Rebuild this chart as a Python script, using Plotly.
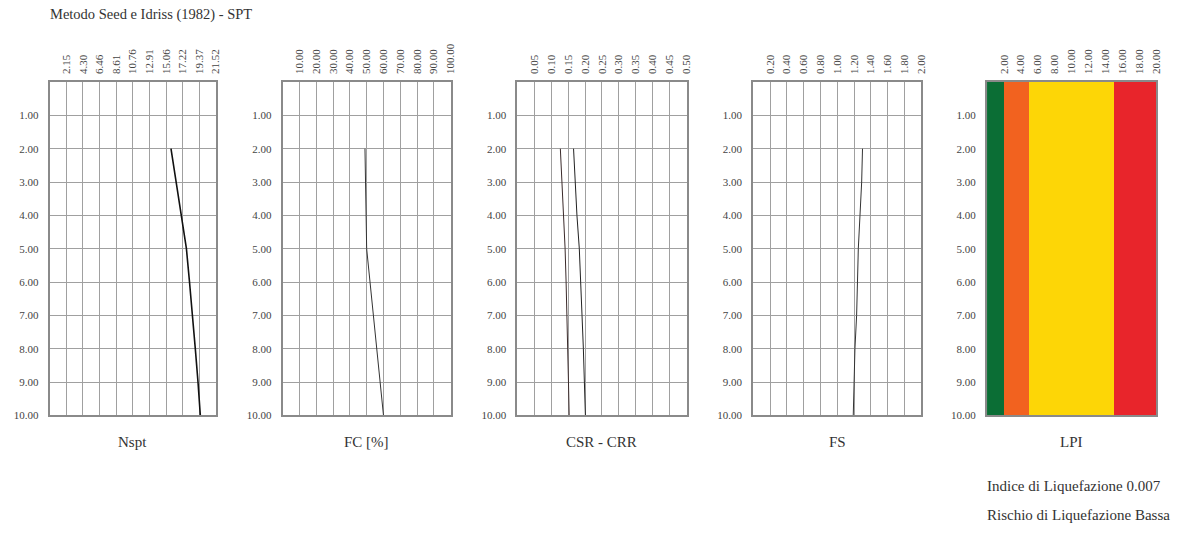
import plotly.graph_objects as go

# Depth profile (m)
depth = [2, 3, 4, 5, 6, 7, 8, 9, 10]

# Series values along the profile
nspt = [15.7, 16.35, 17.0, 17.7, 18.1, 18.5, 18.85, 19.2, 19.5]
fc = [49.0, 49.3, 49.6, 50.0, 52.0, 54.0, 56.0, 58.0, 60.0]
csr = [0.127, 0.132, 0.137, 0.141, 0.144, 0.147, 0.149, 0.151, 0.153]
crr = [0.166, 0.170, 0.176, 0.183, 0.188, 0.191, 0.195, 0.198, 0.201]
fs = [1.30, 1.29, 1.27, 1.25, 1.24, 1.23, 1.21, 1.20, 1.19]

# LPI classes: band edges and colours
lpi_edges = [0, 2, 5, 15, 20]
lpi_colors = ["#0b6e35", "#f2621f", "#fdd606", "#e8252b"]

# Top tick labels of each panel
nspt_ticks = [2.15, 4.30, 6.46, 8.61, 10.76, 12.91, 15.06, 17.22, 19.37, 21.52]
fc_ticks = [10, 20, 30, 40, 50, 60, 70, 80, 90, 100]
csr_ticks = [0.05, 0.10, 0.15, 0.20, 0.25, 0.30, 0.35, 0.40, 0.45, 0.50]
fs_ticks = [0.20, 0.40, 0.60, 0.80, 1.00, 1.20, 1.40, 1.60, 1.80, 2.00]
lpi_ticks = [2, 4, 6, 8, 10, 12, 14, 16, 18, 20]
depth_ticks = [1, 2, 3, 4, 5, 6, 7, 8, 9, 10]

panel_titles = ["Nspt", "FC [%]", "CSR - CRR", "FS", "LPI"]
chart_title = "Metodo Seed e Idriss (1982) - SPT"
index_text = "Indice di Liquefazione 0.007"
risk_text = "Rischio di Liquefazione Bassa"

W, H = 1199, 541
FONT = "Liberation Serif"
panels_px = [(50, 217), (284, 453), (520, 690), (757, 926), (992, 1162)]
y_top_px, y_bot_px = 83, 420
ydom = [1 - y_bot_px / H, 1 - y_top_px / H]

fig = go.Figure()

fig.add_trace(go.Scatter(x=nspt, y=depth, mode="lines", line=dict(color="#111", width=1.6),
                         xaxis="x", yaxis="y", showlegend=False))
fig.add_trace(go.Scatter(x=fc, y=depth, mode="lines", line=dict(color="#333", width=1),
                         xaxis="x2", yaxis="y2", showlegend=False))
fig.add_trace(go.Scatter(x=csr, y=depth, mode="lines", line=dict(color="#3a2a2a", width=1),
                         xaxis="x3", yaxis="y3", showlegend=False))
fig.add_trace(go.Scatter(x=crr, y=depth, mode="lines", line=dict(color="#222", width=1),
                         xaxis="x3", yaxis="y3", showlegend=False))
fig.add_trace(go.Scatter(x=fs, y=depth, mode="lines", line=dict(color="#333", width=1),
                         xaxis="x4", yaxis="y4", showlegend=False))

# LPI colour bands as horizontal bars over the full depth
for a, b, c in zip(lpi_edges[:-1], lpi_edges[1:], lpi_colors):
    fig.add_trace(go.Bar(x=[b - a], base=[a], y=[5], width=[10], orientation="h",
                         marker=dict(color=c, line=dict(width=0)),
                         xaxis="x5", yaxis="y5", showlegend=False))

tick_sets = [nspt_ticks, fc_ticks, csr_ticks, fs_ticks, lpi_ticks]
ranges = [[0, 21.52], [0, 100], [0, 0.5], [0, 2.0], [0, 20]]

layout = dict(
    width=W, height=H,
    margin=dict(l=0, r=0, t=0, b=0),
    paper_bgcolor="white", plot_bgcolor="white",
    font=dict(family=FONT, color="#333"),
    bargap=0, barmode="overlay",
)

annotations = []
for i, ((x0, x1), ticks, rng, title) in enumerate(zip(panels_px, tick_sets, ranges, panel_titles)):
    sfx = "" if i == 0 else str(i + 1)
    grid = i < 4
    layout["xaxis" + sfx] = dict(
        domain=[x0 / W, x1 / W], range=rng, side="top",
        anchor="y" + sfx,
        tickvals=ticks, ticktext=[f"{t:.2f}" for t in ticks],
        tickangle=-90, tickfont=dict(size=11, color="#444"),
        ticklabelstandoff=4,
        showgrid=grid, gridcolor="#a0a0a0", gridwidth=1,
        showline=True, linecolor="#8a8a8a", linewidth=2, mirror=True,
        zeroline=False, fixedrange=True,
    )
    layout["yaxis" + sfx] = dict(
        domain=ydom, range=[10, 0], anchor="x" + sfx,
        tickvals=depth_ticks, ticktext=[f"{t:.2f}" for t in depth_ticks],
        tickfont=dict(size=11, color="#444"), ticklabelstandoff=7,
        showgrid=grid, gridcolor="#a0a0a0", gridwidth=1,
        showline=True, linecolor="#8a8a8a", linewidth=2, mirror=True,
        zeroline=False, fixedrange=True,
    )
    annotations.append(dict(
        text=title, x=(x0 + x1) / 2 / W, y=1 - 447 / H, xref="paper", yref="paper",
        xanchor="center", yanchor="middle", showarrow=False,
        font=dict(family=FONT, size=15, color="#333"),
    ))

annotations.append(dict(text=chart_title, x=48 / W, y=1 - 15 / H, xref="paper", yref="paper",
                        xanchor="left", yanchor="middle", showarrow=False,
                        font=dict(family=FONT, size=14.5, color="#333")))
annotations.append(dict(text=index_text, x=990 / W, y=1 - 491 / H, xref="paper", yref="paper",
                        xanchor="left", yanchor="middle", showarrow=False,
                        font=dict(family=FONT, size=15, color="#333")))
annotations.append(dict(text=risk_text, x=990 / W, y=1 - 521 / H, xref="paper", yref="paper",
                        xanchor="left", yanchor="middle", showarrow=False,
                        font=dict(family=FONT, size=15, color="#333")))
layout["annotations"] = annotations

fig.update_layout(**layout)
fig.write_html("out.html")
